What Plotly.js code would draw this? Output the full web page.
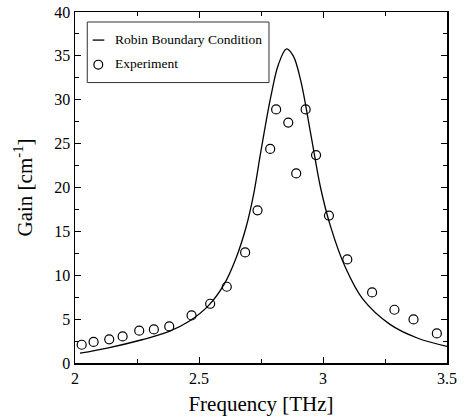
<!DOCTYPE html>
<html>
<head>
<meta charset="utf-8">
<script src="https://cdn.plot.ly/plotly-3.0.1.min.js"></script>
<style>
html,body{margin:0;padding:0;background:#fff;}
#chart{width:465px;height:420px;}
</style>
</head>
<body>
<div id="chart"></div>
<script>
// Robin Boundary Condition (model curve)
const modelFreq = [2.02, 2.13, 2.27, 2.38, 2.46, 2.54, 2.60, 2.65, 2.69, 2.72, 2.75, 2.79, 2.82, 2.853, 2.88, 2.91, 2.95, 2.99, 3.03, 3.09, 3.16, 3.27, 3.38, 3.5];
const modelGain = [1.12, 1.7, 2.65, 3.6, 4.75, 6.6, 8.9, 12.0, 15.5, 19.2, 24.2, 30.4, 34.0, 35.8, 35.0, 32.2, 26.2, 20.0, 15.6, 10.9, 7.3, 4.4, 2.85, 1.9];
// Experiment
const expFreq = [2.027, 2.075, 2.138, 2.192, 2.259, 2.318, 2.380, 2.470, 2.545, 2.612, 2.686, 2.736, 2.787, 2.811, 2.860, 2.892, 2.930, 2.972, 3.024, 3.098, 3.198, 3.288, 3.365, 3.459];
const expGain = [2.08, 2.4, 2.7, 3.03, 3.68, 3.83, 4.17, 5.42, 6.75, 8.69, 12.6, 17.4, 24.4, 28.9, 27.4, 21.6, 28.9, 23.7, 16.8, 11.8, 8.04, 6.07, 4.97, 3.37];
const xTicks = [2, 2.5, 3, 3.5];
const yTicks = [0, 5, 10, 15, 20, 25, 30, 35, 40];
const legendLabels = ["Robin Boundary Condition", "Experiment"];

const serif = "Liberation Serif";

const traces = [
  {x: modelFreq, y: modelGain, mode: 'lines', line: {color: '#000', width: 1.3, shape: 'spline', smoothing: 1}, showlegend: false, hoverinfo: 'skip'},
  {x: expFreq, y: expGain, mode: 'markers', marker: {symbol: 'circle-open', size: 9, color: '#000', line: {width: 1.2}}, showlegend: false, hoverinfo: 'skip'}
];

const layout = {
  width: 465, height: 420,
  margin: {l: 75, r: 18, t: 12, b: 57},
  paper_bgcolor: '#fff', plot_bgcolor: '#fff',
  font: {family: serif, color: '#000', size: 16},
  showlegend: false,
  xaxis: {
    showgrid: false, zeroline: false, showline: true, linecolor: '#000', linewidth: 1.5,
    mirror: 'allticks', ticks: 'inside', ticklen: 6, tickwidth: 1, tickcolor: '#000',
    tickfont: {family: serif, size: 16, color: '#000'},
    range: [2, 3.5], tickvals: xTicks, ticktext: xTicks.map(String),
    minor: {dtick: 0.25, ticks: 'inside', ticklen: 4, tickcolor: '#000'},
    title: {text: 'Frequency [THz]', font: {family: serif, size: 21, color: '#000'}, standoff: 10}
  },
  yaxis: {
    showgrid: false, zeroline: false, showline: true, linecolor: '#000', linewidth: 1.5,
    mirror: 'allticks', ticks: 'inside', ticklen: 6, tickwidth: 1, tickcolor: '#000',
    tickfont: {family: serif, size: 16, color: '#000'},
    range: [0, 40], tickvals: yTicks, ticktext: yTicks.map(String),
    minor: {dtick: 2.5, ticks: 'inside', ticklen: 4, tickcolor: '#000'},
    title: {text: 'Gain [cm<sup>-1</sup>]', font: {family: serif, size: 21, color: '#000'}, standoff: 16}
  },
  shapes: [
    {type: 'rect', xref: 'paper', yref: 'paper', x0: 0.033, x1: 0.5215, y0: 0.799, y1: 0.9715, line: {color: '#333', width: 1}, fillcolor: '#fff', layer: 'above'},
    {type: 'line', xref: 'paper', yref: 'paper', x0: 0.0476, x1: 0.0788, y0: 0.920, y1: 0.920, line: {color: '#000', width: 1.3}, layer: 'above'},
    {type: 'circle', xref: 'paper', yref: 'paper', x0: 0.0626 - 0.0118, x1: 0.0626 + 0.0118, y0: 0.850 - 0.0125, y1: 0.850 + 0.0125, line: {color: '#000', width: 1.2}, layer: 'above'}
  ],
  annotations: [
    {xref: 'paper', yref: 'paper', x: 0.1013, y: 0.922, xanchor: 'left', yanchor: 'middle', showarrow: false, text: legendLabels[0], font: {family: serif, size: 13.5, color: '#000'}},
    {xref: 'paper', yref: 'paper', x: 0.1013, y: 0.853, xanchor: 'left', yanchor: 'middle', showarrow: false, text: legendLabels[1], font: {family: serif, size: 13.5, color: '#000'}}
  ]
};

Plotly.newPlot('chart', traces, layout, {staticPlot: true, displayModeBar: false});
</script>
</body>
</html>
